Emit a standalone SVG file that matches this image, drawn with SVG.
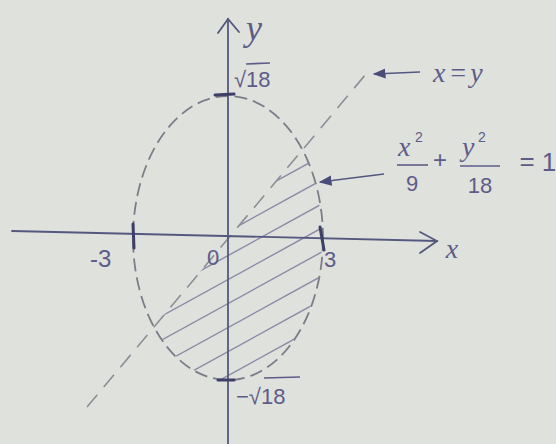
<svg xmlns="http://www.w3.org/2000/svg" width="556" height="444" viewBox="0 0 556 444">
<defs>
  <style>
    .axis{stroke:#55587e;stroke-width:1.8;fill:none;stroke-linecap:round}
    .tick{stroke:#3e3f66;stroke-width:3;fill:none;stroke-linecap:round}
    .ell{stroke:#7b7d88;stroke-width:1.8;fill:none;stroke-dasharray:13 6}
    .diag{stroke:#8c8e98;stroke-width:1.6;fill:none;stroke-dasharray:16 10}
    .hatch{stroke:#8a8aa6;stroke-width:1.4;fill:none}
    .ink{fill:#5d5c88;font-family:"Liberation Sans",Arial,sans-serif}
    .it{fill:#5d5c88;font-family:"Liberation Serif","Times New Roman",serif;font-style:italic}
    .bar{stroke:#5d5c88;stroke-width:1.6;fill:none}
    .ptr{stroke:#55587e;stroke-width:1.6;fill:none}
  </style>
  <marker id="dot" viewBox="0 0 10 10" refX="9" refY="5" markerWidth="8" markerHeight="8" orient="auto">
    <path d="M0 1 L10 5 L0 9 Z" fill="#4a4b78"/>
  </marker>
  <clipPath id="region">
    <path d="M87 407 L365 75 L556 75 L556 444 L0 444 Z"/>
  </clipPath>
  <clipPath id="ellclip">
    <ellipse cx="228" cy="238" rx="94" ry="142"/>
  </clipPath>
</defs>
<rect width="556" height="444" fill="#dfe1dc"/>

<g id="hatching" clip-path="url(#ellclip)">
  <g clip-path="url(#region)">
    <line class="hatch" x1="100" y1="254" x2="340" y2="122"/>
    <line class="hatch" x1="100" y1="278" x2="340" y2="146"/>
    <line class="hatch" x1="100" y1="302" x2="340" y2="170"/>
    <line class="hatch" x1="100" y1="326" x2="340" y2="194"/>
    <line class="hatch" x1="100" y1="350" x2="340" y2="218"/>
    <line class="hatch" x1="100" y1="374" x2="340" y2="242"/>
    <line class="hatch" x1="100" y1="398" x2="340" y2="266"/>
    <line class="hatch" x1="100" y1="422" x2="340" y2="290"/>
    <line class="hatch" x1="100" y1="446" x2="340" y2="314"/>
    <line class="hatch" x1="100" y1="470" x2="340" y2="338"/>
  </g>
</g>

<g id="ellipse">
  <ellipse class="ell" cx="228" cy="238" rx="95" ry="142"/>
</g>

<g id="line-xy">
  <line class="diag" x1="87" y1="407" x2="366" y2="74"/>
</g>

<g id="axes">
  <line class="axis" x1="12" y1="231" x2="437" y2="241"/>
  <polyline class="axis" points="420,232 437,241 420,253"/>
  <line class="axis" x1="228" y1="444" x2="228" y2="19"/>
  <polyline class="axis" points="218,33 228,19 239,32"/>
  <line class="tick" x1="133" y1="224" x2="134" y2="248"/>
  <line class="tick" x1="320" y1="227" x2="324" y2="250"/>
  <line class="tick" x1="215" y1="95" x2="234" y2="94"/>
  <line class="tick" x1="218" y1="380" x2="234" y2="380"/>
</g>

<g id="labels">
  <text class="it" x="246" y="40" font-size="36">y</text>
  <text class="ink" x="234" y="87" font-size="22">√18</text>
  <line class="bar" x1="246" y1="64" x2="270" y2="63"/>
  <text class="ink" x="90" y="267" font-size="24">-3</text>
  <text class="ink" x="213" y="265" font-size="22" text-anchor="middle">0</text>
  <text class="ink" x="330" y="267" font-size="22" text-anchor="middle">3</text>
  <text class="it" x="452" y="258" font-size="28" text-anchor="middle">x</text>
  <text class="ink" x="236" y="404" font-size="22">−√18</text>
  <line class="bar" x1="264" y1="378" x2="300" y2="377"/>
  <text class="it" x="433" y="82" font-size="28" letter-spacing="3">x=y</text>
  <text class="it" x="398" y="156" font-size="28">x</text>
  <text class="ink" x="415" y="142" font-size="14">2</text>
  <line class="bar" x1="397" y1="165" x2="428" y2="165"/>
  <text class="ink" x="412" y="191" font-size="22" text-anchor="middle">9</text>
  <text class="ink" x="440" y="168" font-size="24" text-anchor="middle">+</text>
  <text class="it" x="462" y="156" font-size="28">y</text>
  <text class="ink" x="478" y="142" font-size="14">2</text>
  <line class="bar" x1="460" y1="166" x2="500" y2="166"/>
  <text class="ink" x="480" y="193" font-size="22" text-anchor="middle">18</text>
  <text class="ink" x="527" y="170" font-size="26" text-anchor="middle">=</text>
  <text class="ink" x="549" y="171" font-size="26" text-anchor="middle">1</text>
</g>

<g id="connectors">
  <line class="ptr" x1="420" y1="72" x2="374" y2="74" marker-end="url(#dot)"/>
  <line class="ptr" x1="384" y1="174" x2="320" y2="182" marker-end="url(#dot)"/>
</g>
</svg>
